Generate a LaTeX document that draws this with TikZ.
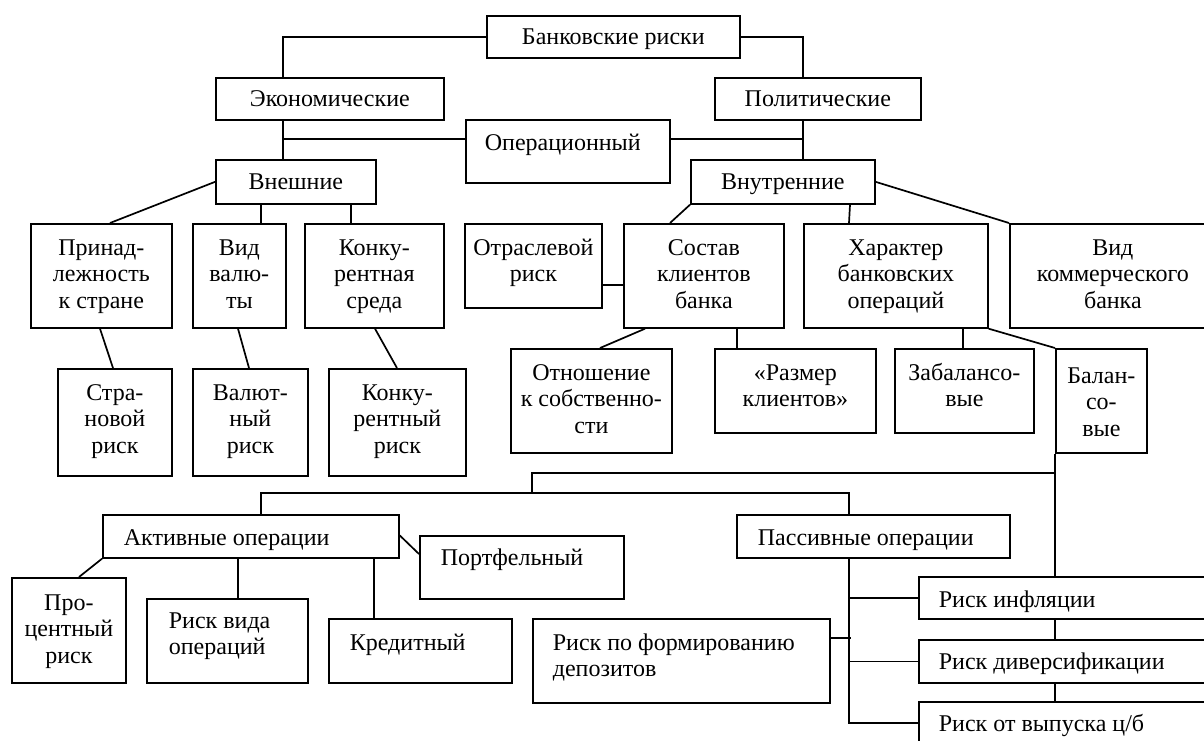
\documentclass[tikz,border=0pt]{standalone}
\usepackage{fontspec}
\setmainfont{Liberation Serif}
\hyphenpenalty=10000
\newcommand\bt[5]{\parbox[t][#2pt][t]{#1pt}{#4\vspace*{#3pt}\strut#5\par}}
\newcommand\CC{\centering}
\newcommand\LL[1]{\raggedright\leftskip=#1pt\relax}
\tikzset{
  bx/.style={draw, line width=1.7pt, inner sep=0pt, anchor=north west},
  ln/.style={line width=1.7pt}
}
\begin{document}
\begin{tikzpicture}[x=1pt,y=-1pt,font=\fontsize{24}{26.5}\selectfont]
\useasboundingbox (0,0) rectangle (1204,740);
\fill[white] (0,0) rectangle (1204,740);
\clip (0,0) rectangle (1204,740);
% level 0-1
\node[bx] (bank)  at (486,15)  {\bt{253}{42}{10}{\CC}{Банковские риски}};
\node[bx] (econ)  at (215,77)  {\bt{228}{42}{10}{\CC}{Экономические}};
\node[bx] (polit) at (714,77)  {\bt{206}{42}{10}{\CC}{Политические}};
\node[bx] (oper)  at (465,119) {\bt{204}{63}{12}{\LL{19}}{Операционный}};
\node[bx] (vnesh) at (215,159) {\bt{160}{44}{11}{\CC}{Внешние}};
\node[bx] (vnutr) at (690,159) {\bt{184}{44}{11}{\CC}{Внутренние}};
% row 2
\node[bx] (prin)   at (30,223)  {\bt{141}{104}{13}{\CC}{Принад-\\лежность\\к~стране}};
\node[bx] (vidval) at (192,223) {\bt{93}{104}{13}{\CC}{Вид\\валю-\\ты}};
\node[bx] (konksr) at (304,223) {\bt{139}{104}{13}{\CC}{Конку-\\рентная\\среда}};
\node[bx] (otr)    at (464,223) {\bt{137}{84}{13}{\CC}{Отраслевой\\риск}};
\node[bx] (sostav) at (623,223) {\bt{160}{104}{13}{\CC}{Состав\\клиентов\\банка}};
\node[bx] (harakt) at (803,223) {\bt{184}{104}{13}{\CC}{Характер\\банковских\\операций}};
\node[bx] (vidkom) at (1009,223) {\bt{206}{104}{13}{\CC}{Вид\\коммерческого\\банка}};
% row 3
\node[bx] (stran)  at (57,368)  {\bt{114}{107}{13}{\CC}{Стра-\\новой\\риск}};
\node[bx] (valut)  at (192,368) {\bt{115}{107}{13}{\CC}{Валют-\\ный\\риск}};
\node[bx] (konkr)  at (328,368) {\bt{137}{107}{13}{\CC}{Конку-\\рентный\\риск}};
\node[bx] (otnosh) at (510,348) {\bt{161}{104}{13}{\CC}{Отношение\\к~собственно-\\сти}};
\node[bx] (razmer) at (714,348) {\bt{161}{84}{13}{\CC}{«Размер\\клиентов»}};
\node[bx] (zabal)  at (894,348) {\bt{139}{84}{13}{\CC}{Забалансо-\\вые}};
\node[bx] (bal)    at (1055,348) {\bt{91}{104}{16}{\CC}{Балан-\\со-\\вые}};
% lower part
\node[bx] (aktiv)  at (102,514) {\bt{296}{43}{12}{\LL{21}}{Активные операции}};
\node[bx] (portf)  at (419,535) {\bt{204}{63}{11}{\LL{21}}{Портфельный}};
\node[bx] (passiv) at (736,514) {\bt{273}{43}{12}{\LL{21}}{Пассивные операции}};
\node[bx] (proc)   at (11,577)  {\bt{114}{105}{14}{\CC}{Про-\\центный\\риск}};
\node[bx] (vida)   at (146,598) {\bt{161}{84}{11}{\LL{22}}{Риск вида\\операций}};
\node[bx] (kred)   at (328,618) {\bt{183}{64}{13}{\LL{21}}{Кредитный}};
\node[bx] (form)   at (532,618) {\bt{297}{84}{13}{\LL{20}}{Риск по формированию\\депозитов}};
\node[bx] (infl)   at (918,576) {\bt{302}{42}{12}{\LL{20}}{Риск инфляции}};
\node[bx] (divers) at (918,639) {\bt{302}{43}{11}{\LL{20}}{Риск диверсификации}};
\node[bx] (vypusk) at (918,701) {\bt{302}{42}{11}{\LL{20}}{Риск от выпуска ц/б}};
% junction coordinates
\coordinate (ej) at (283,139);
\coordinate (pj) at (803,139);
\coordinate (os) at (601,285);
\coordinate (j1) at (1055,473);
\coordinate (j2) at (532,493);
\coordinate (pv) at (849,557);
% connectors
\draw[ln] (bank.west) -| ([xshift=68pt]econ.north west);
\draw[ln] (bank.east) -| ([xshift=89pt]polit.north west);
\draw[ln] ([xshift=68pt]econ.south west) -- ([xshift=68pt]vnesh.north west);
\draw[ln] ([xshift=89pt]polit.south west) -- ([xshift=113pt]vnutr.north west);
\draw[ln] (ej) -- (ej -| oper.west);
\draw[ln] (pj) -- (pj -| oper.east);
\draw[ln] (vnesh.west) -- ([xshift=80pt]prin.north west);
\draw[ln] ([xshift=46pt]vnesh.south west) -- ([xshift=69pt]vidval.north west);
\draw[ln] ([xshift=136pt]vnesh.south west) -- ([xshift=47pt]konksr.north west);
\draw[ln] ([xshift=70pt]prin.south west) -- ([xshift=56pt]stran.north west);
\draw[ln] ([xshift=46pt]vidval.south west) -- ([xshift=57pt]valut.north west);
\draw[ln] ([xshift=71pt]konksr.south west) -- ([xshift=69pt]konkr.north west);
\draw[ln] (vnutr.south west) -- ([xshift=47pt]sostav.north west);
\draw[ln] ([xshift=160pt]vnutr.south west) -- ([xshift=46pt]harakt.north west);
\draw[ln] (vnutr.east) -- (vidkom.north west);
\draw[ln] (os) -- (os -| sostav.west);
\draw[ln] ([xshift=22pt]sostav.south west) -- ([xshift=90pt]otnosh.north west);
\draw[ln] ([xshift=114pt]sostav.south west) -- ([xshift=23pt]razmer.north west);
\draw[ln] ([xshift=160pt]harakt.south west) -- ([xshift=69pt]zabal.north west);
\draw[ln] (harakt.south east) -- (bal.north west);
\draw[ln] (bal.south west) -- ([xshift=137pt]infl.north west);
\draw[ln] (j1) -| (j2);
\draw[ln] ([xshift=159pt]aktiv.north west) |- ([xshift=113pt,yshift=21pt]passiv.north west) -- ([xshift=113pt]passiv.north west);
\draw[ln] ([xshift=113pt]passiv.south west) |- (vypusk.west);
\draw[ln] (infl.west) -- (infl.west -| pv);
\draw[ln] (divers.west) -- (divers.west -| pv);
\draw[ln] ([yshift=-20pt]form.north east) -- ++(20,0);
\draw[ln] ([xshift=137pt]infl.south west) -- ([xshift=137pt]divers.north west);
\draw[ln] ([xshift=137pt]divers.south west) -- ([xshift=137pt]vypusk.north west);
\draw[ln] (aktiv.south west) -- ([xshift=68pt]proc.north west);
\draw[ln] ([xshift=136pt]aktiv.south west) -- ([xshift=92pt]vida.north west);
\draw[ln] ([xshift=272pt]aktiv.south west) -- ([xshift=46pt]kred.north west);
\draw[ln] ([yshift=1pt]aktiv.east) -- ([yshift=-19pt]portf.north west);
\end{tikzpicture}
\end{document}
